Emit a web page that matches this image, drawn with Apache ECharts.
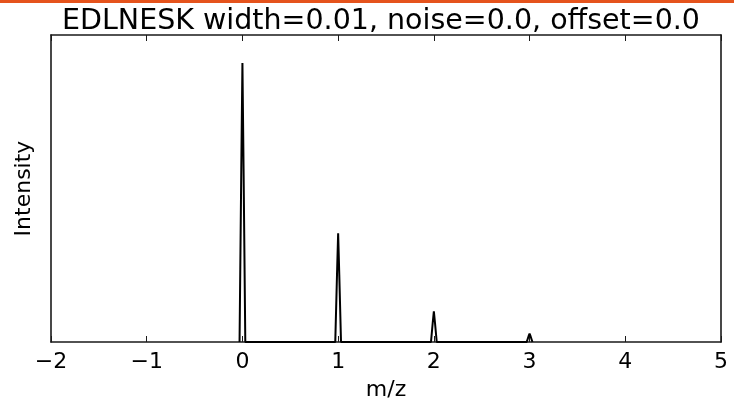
<!DOCTYPE html>
<html>
<head>
<meta charset="utf-8">
<script src="https://cdn.jsdelivr.net/npm/echarts@6/dist/echarts.min.js"></script>
<style>
  html, body { margin: 0; padding: 0; background: #fff; }
  #chart { width: 734px; height: 407px; }
</style>
</head>
<body>
<div id="chart"></div>
<script>
// Simulated isotope envelope for EDLNESK (relative intensity vs m/z offset)
const mzValues = [
  -0.03, -0.012, 0.0, 0.012, 0.03,
  0.97, 0.988, 1.0, 1.012, 1.03,
  1.97, 1.988, 2.0, 2.012, 2.03,
  2.97, 2.988, 3.0, 3.012, 3.03
];
const intensityValues = [
  0, 0.62, 1.0, 0.62, 0,
  0, 0.24, 0.39, 0.24, 0,
  0, 0.068, 0.11, 0.068, 0,
  0, 0.019, 0.03, 0.019, 0
];
const xTicks = [-2, -1, 0, 1, 2, 3, 4, 5];
const titleText = 'EDLNESK width=0.01, noise=0.0, offset=0.0';
const xLabel = 'm/z';
const yLabel = 'Intensity';

const spectrum = mzValues.map((m, i) => [m, intensityValues[i]]);
const font = 'DejaVu Sans';
const axisColor = '#1a1a1a';

const chart = echarts.init(document.getElementById('chart'), null, { renderer: 'canvas' });
chart.setOption({
  animation: false,
  backgroundColor: '#ffffff',
  title: {
    text: titleText,
    left: 376, textAlign: 'center',
    top: 2,
    textStyle: { fontFamily: font, fontSize: 28.5, fontWeight: 'normal', color: '#000' }
  },
  graphic: [{
    type: 'rect', shape: { x: 0, y: 0, width: 734, height: 3 },
    style: { fill: '#e5531c' }, silent: true
  }],
  grid: { left: 51, right: 13, top: 35, bottom: 65 },
  xAxis: [{
    type: 'value', min: xTicks[0], max: xTicks[xTicks.length - 1], interval: 1,
    name: xLabel, nameLocation: 'middle', nameGap: 37,
    nameTextStyle: { fontFamily: font, fontSize: 22, color: '#000' },
    axisLine: { show: true, onZero: false, lineStyle: { color: axisColor, width: 1.6 } },
    axisTick: { show: true, inside: true, length: 6, lineStyle: { color: axisColor, width: 1 } },
    axisLabel: {
      fontFamily: font, fontSize: 22, color: '#000', margin: 9,
      formatter: v => (v < 0 ? '\u2212' + Math.abs(v) : String(v))
    },
    splitLine: { show: false }
  }, {
    type: 'value', position: 'top', min: xTicks[0], max: xTicks[xTicks.length - 1], interval: 1,
    axisLine: { show: true, onZero: false, lineStyle: { color: axisColor, width: 1.6 } },
    axisTick: { show: true, inside: true, length: 6, lineStyle: { color: axisColor, width: 1 } },
    axisLabel: { show: false },
    splitLine: { show: false }
  }],
  yAxis: [{
    type: 'value', min: 0, max: 1.1,
    name: yLabel, nameLocation: 'middle', nameGap: 16, nameRotate: 90,
    nameTextStyle: { fontFamily: font, fontSize: 22, color: '#000' },
    axisLine: { show: true, onZero: false, lineStyle: { color: axisColor, width: 1.6 } },
    axisTick: { show: false },
    axisLabel: { show: false },
    splitLine: { show: false }
  }, {
    type: 'value', position: 'right', min: 0, max: 1.1,
    axisLine: { show: true, onZero: false, lineStyle: { color: axisColor, width: 1.6 } },
    axisTick: { show: false },
    axisLabel: { show: false },
    splitLine: { show: false }
  }],
  series: [{
    type: 'line',
    data: spectrum,
    xAxisIndex: 0, yAxisIndex: 0,
    showSymbol: false,
    lineStyle: { color: '#000', width: 2 },
    silent: true
  }]
});
</script>
</body>
</html>
